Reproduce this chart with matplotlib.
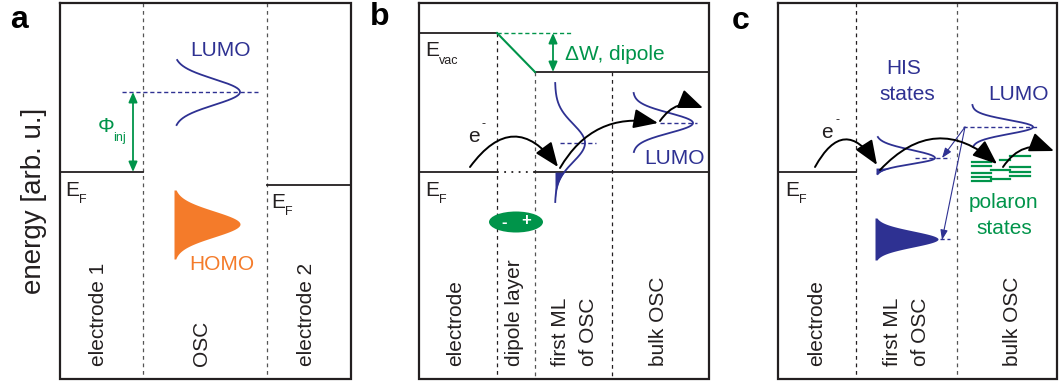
import numpy as np
import matplotlib
matplotlib.use("Agg")
import matplotlib.pyplot as plt
from matplotlib.patches import FancyArrowPatch, Ellipse

plt.rcParams['font.family'] = ['Liberation Sans', 'DejaVu Sans']

BLUE = '#2e3192'
GREEN = '#00944a'
ORANGE = '#f47b2a'
INK = '#231f20'
GRAY = '#555555'

# ---- energy levels (vertical position, screen units, larger = lower energy) ----
fermi_a = [172, 185]          # electrode 1, electrode 2
fermi_b = 172
fermi_c = 172
vacuum_b = [33, 72]           # E_vac on electrode side, on OSC side

# ---- density-of-states profiles: base, centre, amplitude, sigma_up, sigma_down, top, bottom ----
lumo_a = [174, 92, 66, 13, 13, 60, 125]
homo_a = [174, 224, 66, 13, 13, 190, 259]
firstml_b = [555, 143, 30, 19, 19, 83, 202]
bulk_b = [633, 123, 60, 10, 10, 93, 152]
his_c = [876, 158, 59, 8, 6, 137, 174]
bulk_c = [972, 127, 61, 7, 7, 105, 147]
deep_c = [875, 239, 63, 8, 8, 218, 260]

# polaron levels in bulk OSC: (x0, x1, level)
polaron_levels = [(972, 991, 162), (972, 991, 166), (972, 991, 173), (972, 991, 177), (972, 991, 181),
                  (991, 1010, 170), (991, 1010, 179), (1000, 1010, 160),
                  (1010, 1030, 156), (1010, 1030, 167), (1010, 1030, 172), (1010, 1030, 176)]

fig = plt.figure(figsize=(10.6, 3.81), dpi=100)
ax = fig.add_axes([0, 0, 1, 1])
ax.set_xlim(0, 1060)
ax.set_ylim(381, 0)
ax.axis('off')

TOP, BOT = 3, 379
FS = 15


def frame(x0, x1):
    ax.plot([x0, x1, x1, x0, x0], [TOP, TOP, BOT, BOT, TOP], color=INK, lw=1.6,
            solid_joinstyle='miter', zorder=5)


def vdash(x, y0=TOP, color=INK):
    ax.plot([x, x], [y0, BOT], color=color, lw=0.9, ls=(0, (3, 3)), zorder=2)


def hline(x0, x1, y, color=INK, lw=1.3, ls='-'):
    ax.plot([x0, x1], [y, y], color=color, lw=lw, ls=ls, zorder=3)


def profile(p):
    base, c, amp, su, sd, top, bot = p
    y = np.linspace(top, bot, 300)
    s = np.where(y < c, su, sd)
    return base + amp * np.exp(-0.5 * ((y - c) / s) ** 2), y


def dos_line(p, color=BLUE):
    x, y = profile(p)
    ax.plot(x, y, color=color, lw=1.3, zorder=4)


def dos_fill(p, color, ymin=None):
    x, y = profile(p)
    base = p[0]
    where = np.ones_like(y, bool) if ymin is None else (y >= ymin)
    ax.fill_betweenx(y, base, x, where=where, color=color, lw=0, zorder=4)


def ef_label(x, y):
    ax.text(x, y, 'E', fontsize=FS, ha='left', va='center', color=INK)
    ax.text(x + 14, y + 10, 'F', fontsize=9, ha='left', va='center', color=INK)


def bottom_label(x, s):
    ax.text(x, 366, s, rotation=90, fontsize=FS, ha='center', va='bottom', color=INK)


def hop(p0, p1, rad, color='black', lw=1.4, hl=15, hw=6):
    a = FancyArrowPatch(p0, p1, connectionstyle=f'arc3,rad={rad}',
                        arrowstyle=f'-|>,head_length={hl},head_width={hw}',
                        color=color, lw=lw, shrinkA=0, shrinkB=0, zorder=6)
    ax.add_patch(a)


def double_arrow(x, y0, y1):
    a = FancyArrowPatch((x, y0), (x, y1), arrowstyle='<|-|>,head_length=6,head_width=2.6',
                        color=GREEN, lw=1.3, shrinkA=0, shrinkB=0, zorder=6)
    ax.add_patch(a)


def panel_letter(x, y, s):
    ax.text(x, y, s, fontsize=23, fontweight='bold', ha='center', va='center', color='black')


# ================= panel a =================
panel_letter(19, 20, 'a')
ax.text(34, 201, 'energy [arb. u.]', rotation=90, fontsize=20, ha='center', va='center', color=INK)
frame(60, 351)
vdash(143, color=GRAY)
vdash(267, color=GRAY)
hline(60, 143, fermi_a[0])
hline(267, 351, fermi_a[1])
ef_label(65, 190)
ef_label(271, 202)

dos_line(lumo_a)
hline(122, 258, lumo_a[1], color=BLUE, lw=1.0, ls=(0, (3, 2)))
ax.text(221, 51, 'LUMO', fontsize=FS, ha='center', va='center', color=BLUE)
dos_fill(homo_a, ORANGE)
ax.text(222, 264, 'HOMO', fontsize=FS, ha='center', va='center', color=ORANGE)

double_arrow(133, lumo_a[1], fermi_a[0])
ax.text(106, 127, 'Φ', fontsize=FS, ha='center', va='center', color=GREEN)
ax.text(113, 138, 'inj', fontsize=9, ha='left', va='center', color=GREEN)

bottom_label(98, 'electrode 1')
bottom_label(202, 'OSC')
bottom_label(306, 'electrode 2')

# ================= panel b =================
panel_letter(380, 17, 'b')
frame(419, 709)
vdash(497, vacuum_b[0])
vdash(535, vacuum_b[1], color=GRAY)
vdash(612, vacuum_b[1])
hline(419, 497, vacuum_b[0])
ax.plot([497, 535], vacuum_b, color=GREEN, lw=1.5, zorder=4)
hline(535, 709, vacuum_b[1])
hline(497, 573, vacuum_b[0], color=GREEN, lw=1.0, ls=(0, (3, 2)))
double_arrow(553, vacuum_b[0], vacuum_b[1])
ax.text(565, 55, 'ΔW, dipole', fontsize=FS, ha='left', va='center', color=GREEN)
ax.text(425, 50, 'E', fontsize=FS, ha='left', va='center', color=INK)
ax.text(439, 61, 'vac', fontsize=9, ha='left', va='center', color=INK)

hline(419, 497, fermi_b)
hline(497, 535, fermi_b, ls=(0, (1, 3)))
hline(535, 709, fermi_b)
ef_label(425, 190)

dos_line(firstml_b)
dos_fill(firstml_b, BLUE, ymin=fermi_b)
hline(560, 596, firstml_b[1], color=BLUE, lw=1.0, ls=(0, (3, 2)))
dos_line(bulk_b)
hline(660, 697, bulk_b[1], color=BLUE, lw=1.0, ls=(0, (3, 2)))
ax.text(674, 158, 'LUMO', fontsize=FS, ha='center', va='center', color=BLUE)

ax.add_patch(Ellipse((516, 222), 54, 21, color=GREEN, lw=0, zorder=5))
ax.text(504, 222, '-', fontsize=12, fontweight='bold', ha='center', va='center', color='white', zorder=6)
ax.text(526, 221, '+', fontsize=12, fontweight='bold', ha='center', va='center', color='white', zorder=6)

hop((470, 167), (558, 167), -0.68)
hop((560, 168), (658, 123), -0.35)
hop((660, 121), (703, 108), -0.4)
ax.text(474, 137, 'e', fontsize=FS, ha='center', va='center', color=INK)
ax.text(484, 124, '-', fontsize=9, ha='center', va='center', color=INK)

bottom_label(456, 'electrode')
bottom_label(515, 'dipole layer')
bottom_label(560, 'first ML')
bottom_label(588, 'of OSC')
bottom_label(659, 'bulk OSC')

# ================= panel c =================
panel_letter(741, 21, 'c')
frame(778, 1057)
vdash(856)
vdash(957, color=GRAY)
hline(778, 856, fermi_c)
ef_label(785, 190)

dos_line(his_c)
dos_fill(his_c, BLUE, ymin=168)
hline(915, 950, his_c[1], color=BLUE, lw=1.0, ls=(0, (3, 2)))
dos_line(bulk_c)
hline(963, 1038, bulk_c[1], color=BLUE, lw=1.0, ls=(0, (3, 2)))
dos_fill(deep_c, BLUE)
hline(940, 950, deep_c[1], color=BLUE, lw=1.0, ls=(0, (3, 2)))

for x0, x1, lvl in polaron_levels:
    ax.plot([x0, x1], [lvl, lvl], color=GREEN, lw=1.6, zorder=4)

hop((965, 127), (942, 158), 0, color=BLUE, lw=0.8, hl=6, hw=2.2)
hop((965, 127), (942, 240), 0, color=BLUE, lw=0.8, hl=6, hw=2.2)

hop((815, 167), (877, 165), -0.84)
hop((880, 170), (997, 164), -0.48)
hop((1003, 167), (1054, 151), -0.4)
ax.text(827, 132, 'e', fontsize=FS, ha='center', va='center', color=INK)
ax.text(837, 120, '-', fontsize=9, ha='center', va='center', color=INK)

ax.text(904, 68, 'HIS', fontsize=FS, ha='center', va='center', color=BLUE)
ax.text(907, 95, 'states', fontsize=FS, ha='center', va='center', color=BLUE)
ax.text(1019, 95, 'LUMO', fontsize=FS, ha='center', va='center', color=BLUE)
ax.text(1004, 202, 'polaron', fontsize=FS, ha='center', va='center', color=GREEN)
ax.text(1004, 228, 'states', fontsize=FS, ha='center', va='center', color=GREEN)

bottom_label(817, 'electrode')
bottom_label(892, 'first ML')
bottom_label(920, 'of OSC')
bottom_label(1012, 'bulk OSC')

fig.savefig('out.png', dpi=100, facecolor='white')
